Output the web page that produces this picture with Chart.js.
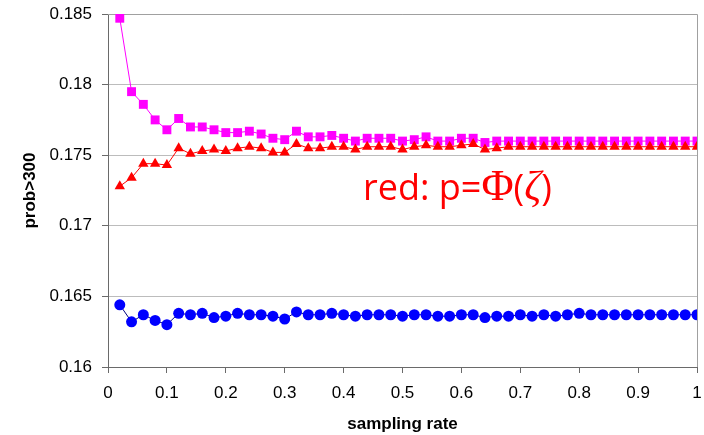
<!DOCTYPE html>
<html>
<head>
<meta charset="utf-8">
<script src="https://cdn.jsdelivr.net/npm/chart.js@4"></script>
<style>
    body { margin: 0; background: #fff; }
    #wrap { width: 704px; height: 435px; }
</style>
</head>
<body>
<div id="wrap"><canvas id="probChart" width="704" height="435"></canvas></div>
<script>
// Sampling rates along the x axis
const samplingRates = [
    0.02, 0.04, 0.06, 0.08, 0.10, 0.12, 0.14, 0.16, 0.18, 0.20,
    0.22, 0.24, 0.26, 0.28, 0.30, 0.32, 0.34, 0.36, 0.38, 0.40,
    0.42, 0.44, 0.46, 0.48, 0.50, 0.52, 0.54, 0.56, 0.58, 0.60,
    0.62, 0.64, 0.66, 0.68, 0.70, 0.72, 0.74, 0.76, 0.78, 0.80,
    0.82, 0.84, 0.86, 0.88, 0.90, 0.92, 0.94, 0.96, 0.98, 1.00
];

// Pink squares
const pinkValues = [
    0.1847, 0.1795, 0.1786, 0.1775, 0.1768, 0.1776, 0.1770, 0.1770, 0.1768, 0.1766,
    0.1766, 0.1767, 0.1765, 0.1762, 0.1761, 0.1767, 0.1763, 0.1763, 0.1764, 0.1762,
    0.1760, 0.1762, 0.1762, 0.1762, 0.1760, 0.1761, 0.1763, 0.1760, 0.1760, 0.1762,
    0.1762, 0.1759, 0.1760, 0.1760, 0.1760, 0.1760, 0.1760, 0.1760, 0.1760, 0.1760,
    0.1760, 0.1760, 0.1760, 0.1760, 0.1760, 0.1760, 0.1760, 0.1760, 0.1760, 0.1760
];

// Red triangles, p = Phi(zeta)
const redValues = [
    0.1728, 0.1734, 0.1744, 0.1744, 0.1743, 0.1755, 0.1751, 0.1753, 0.1754, 0.1753,
    0.1755, 0.1756, 0.1755, 0.1752, 0.1752, 0.1758, 0.1755, 0.1755, 0.1756, 0.1756,
    0.1754, 0.1756, 0.1756, 0.1756, 0.1754, 0.1756, 0.1757, 0.1756, 0.1756, 0.1757,
    0.1758, 0.1754, 0.1755, 0.1756, 0.1756, 0.1756, 0.1756, 0.1756, 0.1756, 0.1756,
    0.1756, 0.1756, 0.1756, 0.1756, 0.1756, 0.1756, 0.1756, 0.1756, 0.1756, 0.1756
];

// Blue circles
const blueValues = [
    0.1644, 0.1632, 0.1637, 0.1633, 0.1630, 0.1638, 0.1637, 0.1638, 0.1635, 0.1636,
    0.1638, 0.1637, 0.1637, 0.1636, 0.1634, 0.1639, 0.1637, 0.1637, 0.1638, 0.1637,
    0.1636, 0.1637, 0.1637, 0.1637, 0.1636, 0.1637, 0.1637, 0.1636, 0.1636, 0.1637,
    0.1637, 0.1635, 0.1636, 0.1636, 0.1637, 0.1636, 0.1637, 0.1636, 0.1637, 0.1638,
    0.1637, 0.1637, 0.1637, 0.1637, 0.1637, 0.1637, 0.1637, 0.1637, 0.1637, 0.1637
];

// Axis ranges
const xRange = [0, 1];
const yRange = [0.16, 0.185];

// Annotation anchor (left end of baseline), in data units
const noteX = 0.433;
const noteY = 0.17181;


function toPoints(values) {
    return values.map((v, i) => ({ x: samplingRates[i], y: v }));
}


// Draws the grey plot-area frame on top and right
const framePlugin = {
    id: 'frame',
    beforeDatasetsDraw(chart) {
        const { ctx, chartArea: a } = chart;
        ctx.save();
        ctx.strokeStyle = '#a0a0a0';
        ctx.lineWidth = 1;
        ctx.beginPath();
        ctx.moveTo(a.left, Math.round(a.top) + 0.5);
        ctx.lineTo(Math.round(a.right) + 0.5, Math.round(a.top) + 0.5);
        ctx.lineTo(Math.round(a.right) + 0.5, a.bottom);
        ctx.stroke();
        ctx.restore();
    }
};

// Draws the "red: p=Φ(ζ)" note
const notePlugin = {
    id: 'note',
    afterDatasetsDraw(chart) {
        const { ctx, scales } = chart;
        let x = scales.x.getPixelForValue(noteX);
        const y = scales.y.getPixelForValue(noteY);
        const parts = [
            ['red: p=', '36px "Open Sans"'],
            ['\u03A6', '44px "Liberation Serif"'],
            ['(', '36px "Open Sans"'],
            ['\u03B6', 'italic 42px "Liberation Serif"'],
            [')', '36px "Open Sans"']
        ];
        ctx.save();
        ctx.fillStyle = '#ff0000';
        ctx.textBaseline = 'alphabetic';
        ctx.textAlign = 'left';
        for (const [text, font] of parts) {
            ctx.font = font;
            ctx.fillText(text, x, y);
            x += ctx.measureText(text).width;
        }
        ctx.restore();
    }
};


const tickFont = { family: 'Liberation Sans', size: 17 };
const titleFont = { family: 'Liberation Sans', size: 17, weight: 'bold' };

new Chart(document.getElementById('probChart').getContext('2d'), {
    type: 'scatter',
    data: {
        datasets: [
            {
                label: 'red',
                data: toPoints(redValues),
                showLine: true,
                borderColor: '#ff0000',
                borderWidth: 1,
                backgroundColor: '#ff0000',
                pointStyle: 'triangle',
                pointRadius: 6,
                pointBorderWidth: 0
            },
            {
                label: 'pink',
                data: toPoints(pinkValues),
                showLine: true,
                borderColor: '#ff00ff',
                borderWidth: 1,
                backgroundColor: '#ff00ff',
                pointStyle: 'rect',
                pointRadius: 6.3,
                pointBorderWidth: 0
            },
            {
                label: 'blue',
                data: toPoints(blueValues),
                showLine: true,
                borderColor: '#000080',
                borderWidth: 1,
                backgroundColor: '#0000ff',
                pointStyle: 'circle',
                pointRadius: 5.5,
                pointBorderWidth: 0
            }
        ]
    },
    options: {
        responsive: false,
        animation: false,
        layout: { padding: { top: 14, right: 7, left: 0, bottom: 0 } },
        plugins: {
            legend: { display: false },
            tooltip: { enabled: false }
        },
        scales: {
            x: {
                type: 'linear',
                min: xRange[0],
                max: xRange[1],
                afterFit: scale => {
                    scale.height = 68;
                    scale.paddingLeft = 0;
                    scale.paddingRight = 0;
                },
                border: { color: '#6a6a6a', width: 1 },
                grid: {
                    drawOnChartArea: false,
                    tickLength: 6,
                    tickColor: '#6a6a6a'
                },
                ticks: {
                    stepSize: 0.1,
                    padding: 10,
                    color: '#000',
                    font: tickFont,
                    maxRotation: 0,
                    callback: v => String(Number(v.toFixed(1)))
                },
                title: {
                    display: true,
                    text: 'sampling rate',
                    color: '#000',
                    font: titleFont,
                    padding: { top: 0, bottom: 0 }
                }
            },
            y: {
                type: 'linear',
                min: yRange[0],
                max: yRange[1],
                afterFit: scale => {
                    scale.width = 108;
                    scale.paddingTop = 0;
                    scale.paddingBottom = 0;
                },
                border: { color: '#6a6a6a', width: 1 },
                grid: {
                    color: '#bcbcbc',
                    tickLength: 6,
                    tickColor: '#6a6a6a'
                },
                ticks: {
                    stepSize: 0.005,
                    padding: 10,
                    color: '#000',
                    font: tickFont,
                    callback: v => String(Number(v.toFixed(3)))
                },
                title: {
                    display: true,
                    text: 'prob>300',
                    color: '#000',
                    font: titleFont,
                    padding: { top: 20, bottom: 0 }
                }
            }
        }
    },
    plugins: [framePlugin, notePlugin]
});
</script>
</body>
</html>
